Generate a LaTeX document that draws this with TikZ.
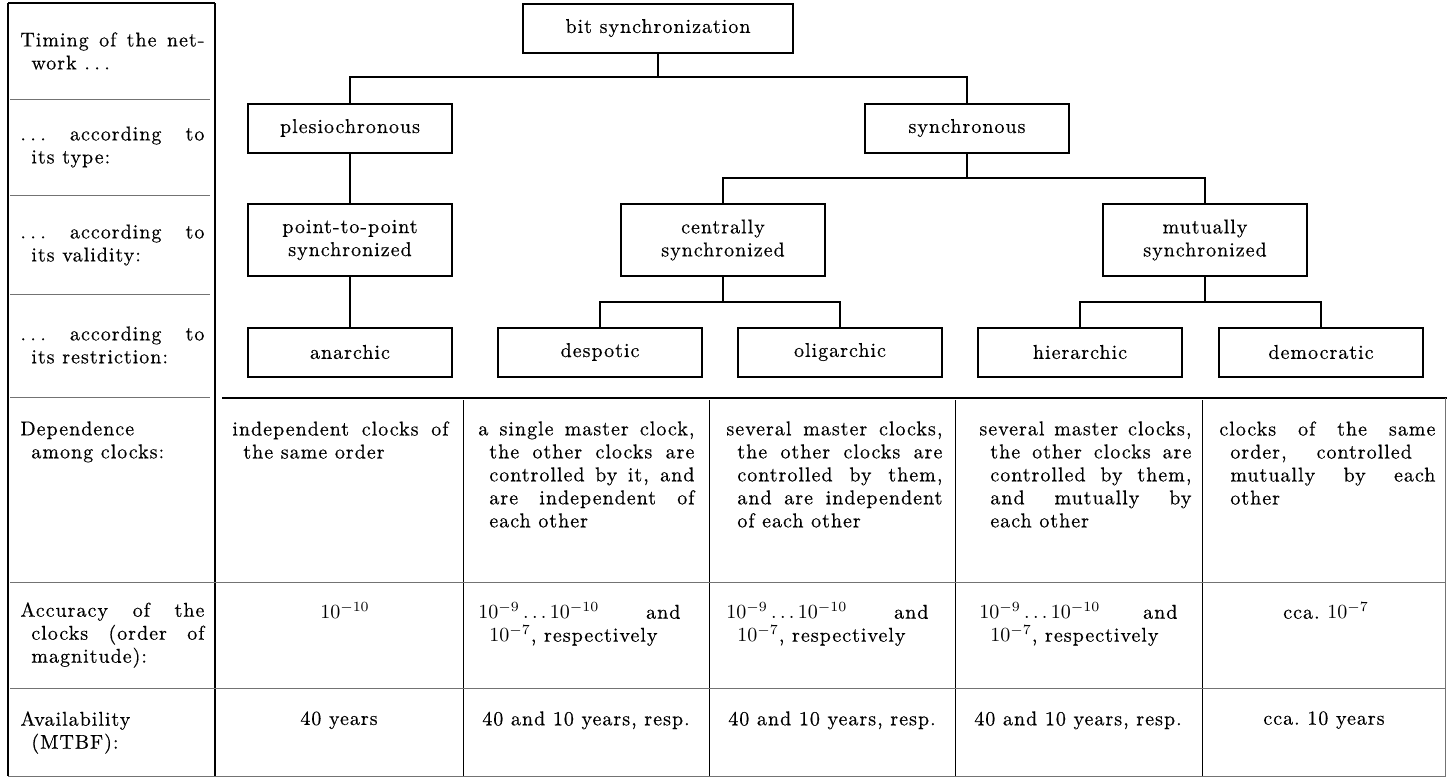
\documentclass[tikz,border=0pt]{standalone}
\usepackage{fontspec}
\setmainfont{lmroman10-regular.otf}[LetterSpace=5,FakeBold=0.4]
\tolerance=9999
\hbadness=10000
\newcommand{\hangtext}[1]{\parbox[t]{\linewidth}{\hangindent=5.5pt\hangafter=1\relax#1}}
\newcommand{\spaceddots}{.\kern2.2pt.\kern2.2pt.}
\begin{document}
\begin{tikzpicture}[x=0.5pt,y=-0.5pt,
        every node/.style={font=\fontsize{10}{11.5}\selectfont},
        treebox/.style={draw,line width=1pt,minimum width=102pt,
            minimum height=24.5pt,align=center,inner sep=2pt},
        tallbox/.style={treebox,minimum height=36pt},
        wire/.style={line width=1pt},
        heavyrule/.style={line width=1pt},
        thinrule/.style={line width=0.4pt,black!55},
        cell/.style={anchor=north west,inner sep=0pt,text width=108pt,
            align=justify},
        ccell/.style={anchor=north,inner sep=0pt,align=center},
        lcell/.style={anchor=west,inner sep=0pt,text width=92pt,
            align=justify}]
	\useasboundingbox (0,0) rectangle (1447,778);
	\node[treebox,minimum width=135pt] (bit) at (658,28) {bit synchronization};
	\node[treebox] (plesio) at (350,128) {plesiochronous};
	\node[treebox] (sync) at (967,128) {synchronous};
	\node[tallbox] (p2p) at (350,240) {point-to-point\\synchronized};
	\node[tallbox] (central) at (723,240) {centrally\\synchronized};
	\node[tallbox] (mutual) at (1205,240) {mutually\\synchronized};
	\node[treebox] (anarchic) at (350,352) {anarchic};
	\node[treebox] (despotic) at (600,352) {despotic};
	\node[treebox] (oligarchic) at (840,352) {oligarchic};
	\node[treebox] (hierarchic) at (1080,352) {hierarchic};
	\node[treebox] (democratic) at (1321,352) {democratic};
	\coordinate (j0) at (658,77);
	\coordinate (j1) at (967,178);
	\coordinate (j2) at (723,302);
	\coordinate (j3) at (1205,302);
	\draw[wire] (bit) -- (j0) -| (plesio);
	\draw[wire] (j0) -| (sync);
	\draw[wire] (plesio) -- (p2p) -- (anarchic);
	\draw[wire] (sync) -- (j1) -| (central);
	\draw[wire] (j1) -| (mutual);
	\draw[wire] (central) -- (j2) -| (despotic);
	\draw[wire] (j2) -| (oligarchic);
	\draw[wire] (mutual) -- (j3) -| (hierarchic);
	\draw[wire] (j3) -| (democratic);
	\draw[heavyrule] (8,3) -- (215,3);
	\draw[heavyrule] (8,3) -- (8,776);
	\draw[heavyrule] (215,3) -- (215,776);
	\draw[line width=1.2pt] (222,398) -- (1447,398);
	\foreach \y in {99,195,294,397}
		\draw[thinrule] (10,\y) -- (210,\y);
	\foreach \x in {463,709,955,1202}
		\draw[line width=0.5pt] (\x,400) -- (\x,776);
	\foreach \y in {582,688}
		\draw[thinrule] (10,\y) -- (1445,\y);
	\draw[thinrule] (8,776) -- (1445,776) -- (1445,398);
	\node[lcell] (timing) at (20,51) {\hangtext{Timing of the net-\linebreak work \spaceddots}};
	\node[lcell] (type) at (20,147) {\hangtext{\spaceddots\ according to\linebreak its type:}};
	\node[lcell] (validity) at (20,245) {\hangtext{\spaceddots\ according to\linebreak its validity:}};
	\node[lcell] (restriction) at (20,345) {\hangtext{\spaceddots\ according to\linebreak its restriction:}};
	\node[cell,text width=92pt] (dependence) at (20,421) {\hangtext{Dependence\newline among clocks:}};
	\node[cell,text width=92pt] (accuracy) at (20,602) {\hangtext{Accuracy of the\linebreak clocks (order of\linebreak magnitude):}};
	\node[cell,text width=92pt] (availability) at (20,711) {\hangtext{Availability\newline (MTBF):}};
	\node[cell] (dep1) at (232,421) {\hangtext{independent clocks of\linebreak the same order}};
	\node[cell] (dep2) at (478,421) {\hangtext{a single master clock,\linebreak the other clocks are\linebreak controlled by it, and\linebreak are independent of\linebreak each other}};
	\node[cell] (dep3) at (726,421) {\hangtext{several master clocks,\linebreak the other clocks are\linebreak controlled by them,\linebreak and are independent\linebreak of each other}};
	\node[cell,text width=106pt] (dep4) at (979,421) {\hangtext{several master clocks,\linebreak the other clocks are\linebreak controlled by them,\linebreak and mutually by\linebreak each other}};
	\node[cell] (dep5) at (1219,421) {\hangtext{clocks of the same\linebreak order,\hspace{1.5em}controlled\newline mutually by each\linebreak other}};
	\node[ccell] (acc1) at (345,602) {$10^{-10}$};
	\node[cell] (acc2) at (478,602) {\hangtext{$10^{-9}\ldots10^{-10}$ and\kern7pt\linebreak $10^{-7}$, respectively}};
	\node[cell] (acc3) at (726,602) {\hangtext{$10^{-9}\ldots10^{-10}$ and\kern7pt\linebreak $10^{-7}$, respectively}};
	\node[cell,text width=106pt] (acc4) at (979,602) {\hangtext{$10^{-9}\ldots10^{-10}$ and\kern7pt\linebreak $10^{-7}$, respectively}};
	\node[ccell] (acc5) at (1326,602) {cca.\ $10^{-7}$};
	\node[ccell] (av1) at (339,711) {40 years};
	\node[ccell] (av2) at (586,711) {40 and 10 years, resp.};
	\node[ccell] (av3) at (832,711) {40 and 10 years, resp.};
	\node[ccell] (av4) at (1078,711) {40 and 10 years, resp.};
	\node[ccell] (av5) at (1324,711) {cca.\ 10 years};
\end{tikzpicture}
\end{document}
